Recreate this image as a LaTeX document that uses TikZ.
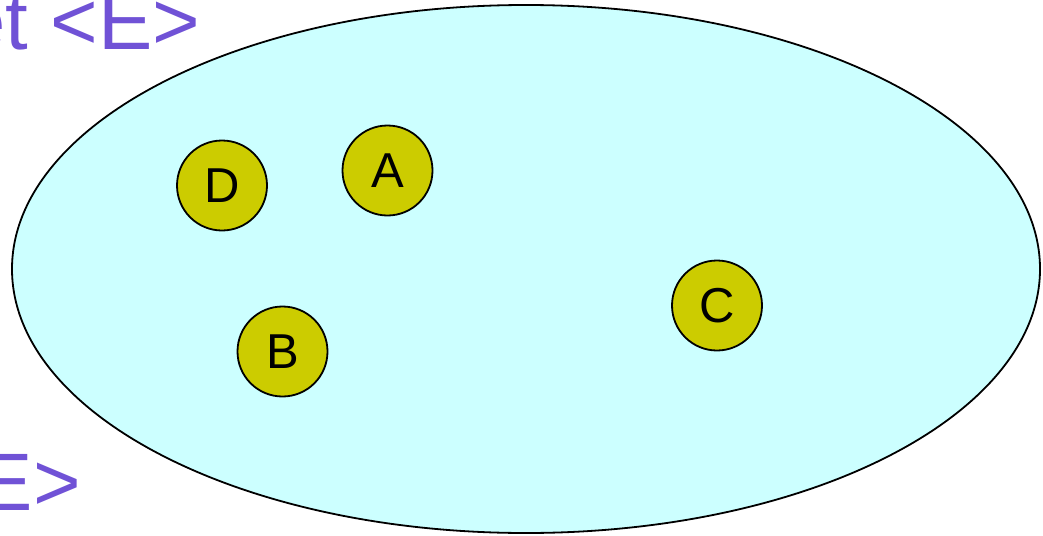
\documentclass[tikz,border=0pt]{standalone}
\usepackage{fontspec}
\setmainfont{Liberation Sans}
\definecolor{setfill}{RGB}{204,255,255}
\definecolor{elemfill}{RGB}{204,204,0}
\definecolor{labelpurple}{RGB}{112,82,214}
\tikzset{
  setshape/.style={draw=black, line width=1.8pt, fill=setfill},
  elem/.style={circle, draw=black, line width=1.8pt, fill=elemfill, minimum size=90pt, inner sep=0pt, font=\fontsize{49}{58}\selectfont},
  biglabel/.style={anchor=base west, inner sep=0pt, text=labelpurple, font=\fontsize{81.5}{98}\selectfont}
}
\begin{document}
\begin{tikzpicture}[x=1pt,y=-1pt]
\useasboundingbox (0,0) rectangle (1043,535);
\clip (0,0) rectangle (1043,535);
\node[biglabel] (toplabel) at (-40,49.5) {et <E>};
\node[biglabel] (botlabel) at (-21.2,510) {E>};
\draw[setshape] (526,269) ellipse [x radius=514, y radius=264];
\node[elem] (D) at (222,185.5) {D};
\node[elem] (A) at (387.5,170.5) {A};
\node[elem] (B) at (282.5,351.5) {B};
\node[elem] (C) at (717,305.5) {C};
\end{tikzpicture}
\end{document}
